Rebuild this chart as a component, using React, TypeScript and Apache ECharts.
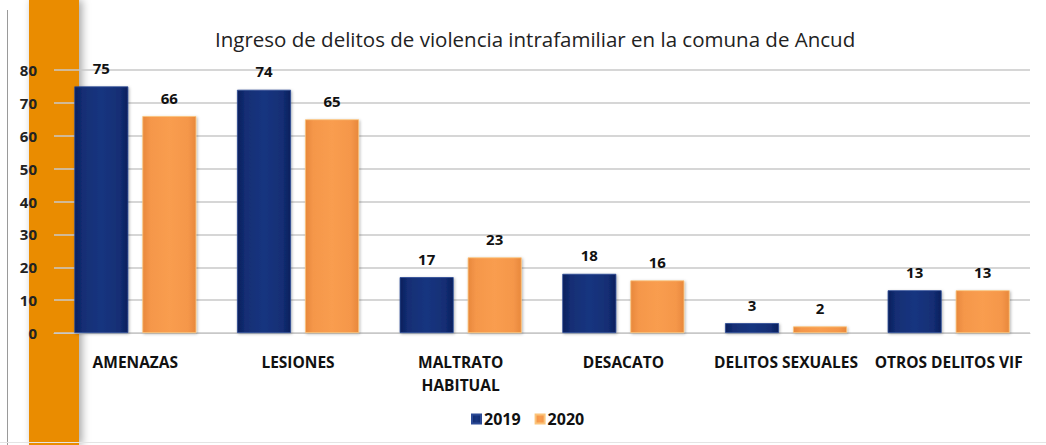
import React, { useEffect, useRef } from "react";
import * as echarts from "echarts";

const categories = ["AMENAZAS", "LESIONES", "MALTRATO\nHABITUAL", "DESACATO", "DELITOS SEXUALES", "OTROS DELITOS VIF"];
const values2019 = [75, 74, 17, 18, 3, 13];
const values2020 = [66, 65, 23, 16, 2, 13];
const seriesNames = ["2019", "2020"];
const yTicks = { min: 0, max: 80, interval: 10 };
const titleText = "Ingreso de delitos de violencia intrafamiliar en la comuna de Ancud";

const FONT = "Open Sans";

const navyFill = new echarts.graphic.LinearGradient(0, 0, 1, 0, [
  { offset: 0, color: "#0a1f5c" },
  { offset: 0.15, color: "#132e74" },
  { offset: 0.5, color: "#173580" },
  { offset: 0.85, color: "#132e74" },
  { offset: 1, color: "#0a1f5c" },
]);
const orangeFill = new echarts.graphic.LinearGradient(0, 0, 1, 0, [
  { offset: 0, color: "#e8883c" },
  { offset: 0.15, color: "#f5974a" },
  { offset: 0.5, color: "#f99d4f" },
  { offset: 0.85, color: "#f5974a" },
  { offset: 1, color: "#e8883c" },
]);

export default function App() {
  const ref = useRef<HTMLDivElement>(null);
  useEffect(() => {
    if (!ref.current) return;
    const chart = echarts.init(ref.current, null, { renderer: "svg" });
    const labelCfg = {
      show: true,
      position: "top" as const,
      distance: 11,
      color: "#111",
      fontFamily: FONT,
      fontWeight: "bold" as const,
      fontSize: 15,
    };
    chart.setOption({
      animation: false,
      backgroundColor: "#ffffff",
      title: {
        text: titleText,
        left: 210,
        top: 23,
        textStyle: { fontFamily: FONT, fontSize: 20.5, fontWeight: "normal", color: "#222" },
      },
      graphic: [
        {
          type: "rect",
          z: -10,
          silent: true,
          shape: { x: 29, y: 0, width: 50, height: 445 },
          style: { fill: "#ea8c00", shadowBlur: 8, shadowColor: "rgba(0,0,0,0.35)", shadowOffsetX: 3 },
        },
        {
          type: "line",
          z: -10,
          silent: true,
          shape: { x1: 7.5, y1: 10, x2: 7.5, y2: 445 },
          style: { stroke: "#9a9a9a", lineWidth: 1 },
        },
        {
          type: "line",
          z: -10,
          silent: true,
          shape: { x1: 0, y1: 442.5, x2: 1046, y2: 442.5 },
          style: { stroke: "#e4e4e4", lineWidth: 1 },
        },
      ],
      legend: {
        data: seriesNames,
        bottom: 13,
        left: 466,
        itemWidth: 9,
        itemHeight: 9,
        itemGap: 14,
        icon: "rect",
        textStyle: { fontFamily: FONT, fontWeight: "bold", fontSize: 16, color: "#111", padding: [0, 0, 0, -2] },
      },
      grid: { left: 54, right: 16, top: 70, bottom: 112 },
      xAxis: {
        type: "category",
        data: categories,
        axisLine: { show: true, lineStyle: { color: "#c8c8c8" } },
        axisTick: { show: false },
        axisLabel: {
          interval: 0,
          margin: 17,
          color: "#111",
          fontFamily: FONT,
          fontWeight: "bold",
          fontSize: 15.5,
          lineHeight: 23,
        },
      },
      yAxis: {
        type: "value",
        min: yTicks.min,
        max: yTicks.max,
        interval: yTicks.interval,
        axisLine: { show: false },
        axisTick: { show: false },
        splitLine: { lineStyle: { color: "#c8c8c8", width: 1.5 } },
        axisLabel: { margin: 17, color: "#222", fontFamily: FONT, fontWeight: "bold", fontSize: 15 },
      },
      series: [
        {
          name: seriesNames[0],
          type: "bar",
          data: values2019,
          barWidth: 54,
          barGap: "26%",
          itemStyle: { color: navyFill, borderColor: "#2c4a96", borderWidth: 0.8, shadowBlur: 3, shadowColor: "rgba(0,0,0,0.3)", shadowOffsetX: 1, shadowOffsetY: 1 },
          label: labelCfg,
        },
        {
          name: seriesNames[1],
          type: "bar",
          data: values2020,
          barWidth: 54,
          itemStyle: { color: orangeFill, borderColor: "#fbc47a", borderWidth: 0.8, shadowBlur: 3, shadowColor: "rgba(0,0,0,0.3)", shadowOffsetX: 1, shadowOffsetY: 1 },
          label: labelCfg,
        },
      ],
    });
    return () => chart.dispose();
  }, []);
  return <div ref={ref} style={{ position: "absolute", left: 0, top: 0, width: 1046, height: 445 }} />;
}
